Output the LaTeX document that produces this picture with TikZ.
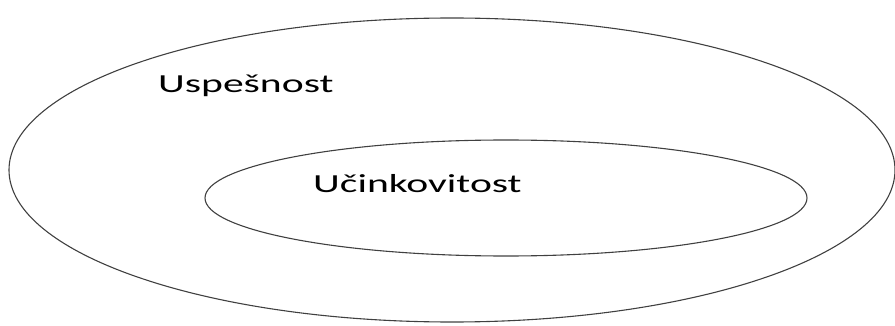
\documentclass[tikz,border=0pt]{standalone}
\usepackage{fontspec}
\setmainfont{Carlito}
\begin{document}
\begin{tikzpicture}[x=1pt,y=-1pt,
  ring/.style={draw=black!75,line width=1.1pt},
  lbl/.style={font=\fontsize{26}{30}\selectfont,anchor=base west,inner sep=0pt}]
\useasboundingbox (0,0) rectangle (895,326);
\draw[ring] (452,170) ellipse [x radius=443, y radius=152];
\draw[ring] (506,198) ellipse [x radius=301, y radius=58];
\node[lbl] (u) at (158,93) {\scalebox{1.6}[1]{Uspešnost}};
\node[lbl] (c) at (313,193) {\scalebox{1.6}[1]{Učinkovitost}};
\end{tikzpicture}
\end{document}
